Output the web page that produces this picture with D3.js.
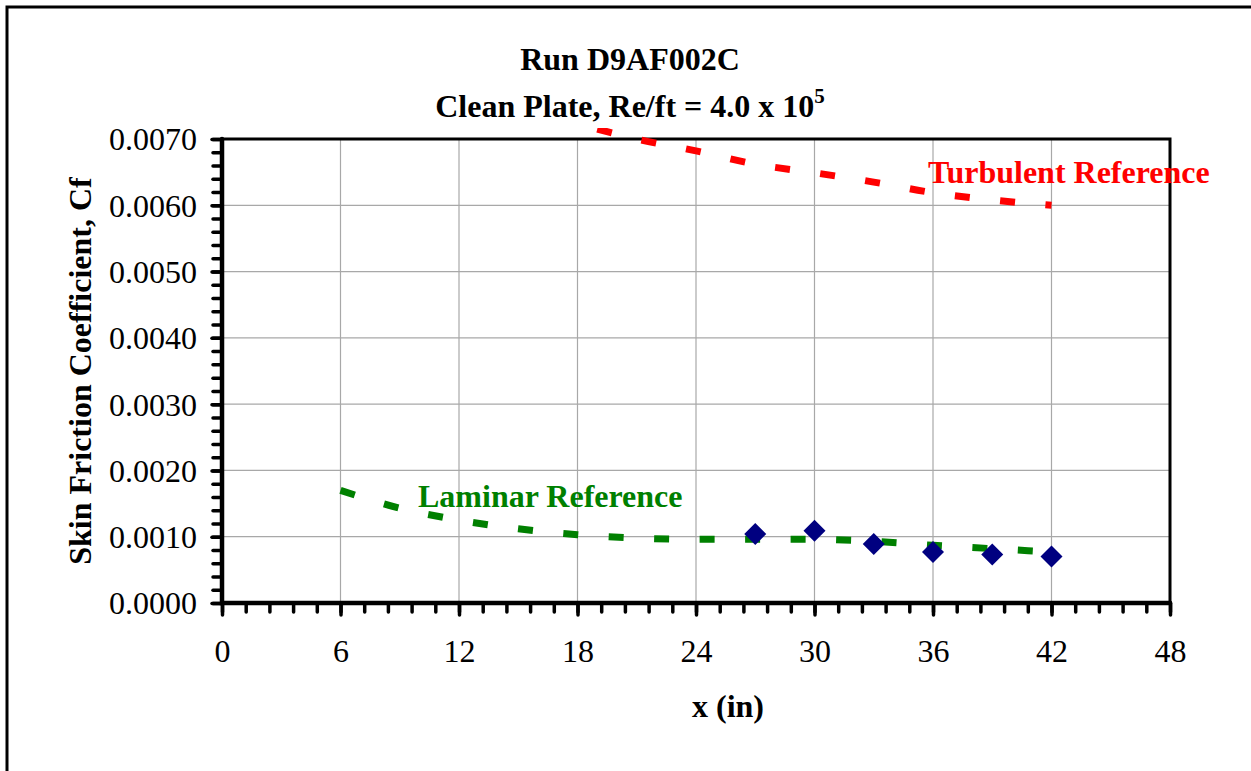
<!DOCTYPE html>
<html>
<head>
<meta charset="utf-8">
<script src="https://cdn.jsdelivr.net/npm/d3@7"></script>
<style>
  body { margin: 0; background: #fff; }
  text { font-family: "Liberation Serif", "Times New Roman", serif; }
</style>
</head>
<body>
<svg id="chart"></svg>
<script>
// Chart size and plot area
const width = 1251;
const height = 771;
const plot = { left: 222, right: 1170, top: 139, bottom: 603 };

// Data
const xTickValues = [0, 6, 12, 18, 24, 30, 36, 42, 48];
const yTickValues = [0, 0.001, 0.002, 0.003, 0.004, 0.005, 0.006, 0.007];

const measuredX = [27, 30, 33, 36, 39, 42];
const measuredCf = [0.00104, 0.00109, 0.00089, 0.00077, 0.00073, 0.00070];

const laminarX = [6, 9, 12, 15, 18, 21, 24, 27, 30, 33, 36, 39, 42];
const laminarCf = [0.00170, 0.00143, 0.00125, 0.00112, 0.00103, 0.00098, 0.00096,
                   0.00096, 0.00096, 0.00093, 0.00087, 0.00082, 0.00077];

const turbulentX = [19, 21, 24, 27, 30, 33, 36, 39, 42];
const turbulentCf = [0.00715, 0.00700, 0.00682, 0.00662, 0.00649, 0.00635, 0.00619, 0.00608, 0.00600];

// Visual constants
const FONT_SIZE = 32;
const GRID_COLOR = '#a8a8a8';
const LAMINAR_COLOR = '#008000';
const TURBULENT_COLOR = '#ff0000';
const MARKER_COLOR = '#000080';
const REF_LINE_WIDTH = 7;
const REF_DASH = '15,30.5';

const svg = d3.select('#chart')
    .attr('width', width)
    .attr('height', height)
    .attr('viewBox', [0, 0, width, height]);

const x = d3.scaleLinear([0, 48], [plot.left, plot.right]);
const y = d3.scaleLinear([0, 0.007], [plot.bottom, plot.top]);

// Outer chart border (runs off the right and bottom edges)
svg.append('rect')
    .attr('x', 7).attr('y', 7)
    .attr('width', 1300).attr('height', 820)
    .attr('fill', 'none')
    .attr('stroke', '#000')
    .attr('stroke-width', 3);

// Gridlines
const grid = svg.append('g');
grid.selectAll('line.gx')
    .data(xTickValues.slice(1, -1))
    .join('line')
        .attr('x1', d => x(d)).attr('x2', d => x(d))
        .attr('y1', plot.top).attr('y2', plot.bottom)
        .attr('stroke', GRID_COLOR)
        .attr('stroke-width', 1.2);
grid.selectAll('line.gy')
    .data(yTickValues.slice(1, -1))
    .join('line')
        .attr('x1', plot.left).attr('x2', plot.right)
        .attr('y1', d => y(d)).attr('y2', d => y(d))
        .attr('stroke', GRID_COLOR)
        .attr('stroke-width', 1.2);

// Top and right frame of plot area
svg.append('path')
    .attr('d', `M${plot.left},${plot.top}H${plot.right}V${plot.bottom}`)
    .attr('fill', 'none')
    .attr('stroke', '#000')
    .attr('stroke-width', 3);

// Reference lines, clipped a bit above the plot top like the original
svg.append('clipPath')
    .attr('id', 'clip')
    .append('rect')
        .attr('x', plot.left)
        .attr('y', plot.top - 11)
        .attr('width', plot.right - plot.left)
        .attr('height', plot.bottom - plot.top + 11);

const line = d3.line()
    .x(d => x(d[0]))
    .y(d => y(d[1]))
    .curve(d3.curveMonotoneX);

const refs = svg.append('g').attr('clip-path', 'url(#clip)');
refs.append('path')
    .attr('d', line(d3.zip(laminarX, laminarCf)))
    .attr('fill', 'none')
    .attr('stroke', LAMINAR_COLOR)
    .attr('stroke-width', REF_LINE_WIDTH)
    .attr('stroke-dasharray', REF_DASH);
refs.append('path')
    .attr('d', line(d3.zip(turbulentX, turbulentCf)))
    .attr('fill', 'none')
    .attr('stroke', TURBULENT_COLOR)
    .attr('stroke-width', REF_LINE_WIDTH)
    .attr('stroke-dasharray', REF_DASH);

// Measured points as diamonds
const R = 11;
svg.append('g')
    .selectAll('path')
    .data(d3.zip(measuredX, measuredCf))
    .join('path')
        .attr('transform', d => `translate(${x(d[0])},${y(d[1])})`)
        .attr('d', `M0,${-R}L${R},0L0,${R}L${-R},0Z`)
        .attr('fill', MARKER_COLOR);

// Axes: major and minor ticks, thick lines with round caps
function styleAxis(g) {
    g.select('.domain').remove();
    g.selectAll('.tick line')
        .attr('stroke', '#000')
        .attr('stroke-width', 3.5)
        .attr('stroke-linecap', 'round');
}

const xMinor = d3.range(0, 48.001, 1.2);
const yMinor = d3.range(0, 0.00701, 0.0002);

svg.append('g')
    .attr('transform', `translate(0,${plot.bottom})`)
    .call(d3.axisBottom(x).tickValues(xMinor).tickSize(9).tickFormat(''))
    .call(styleAxis);
svg.append('g')
    .attr('transform', `translate(0,${plot.bottom})`)
    .call(d3.axisBottom(x).tickValues(xTickValues).tickSize(12).tickFormat(d3.format('d')))
    .call(styleAxis)
    .call(g => g.selectAll('.tick text')
        .attr('y', 59)
        .attr('dy', 0)
        .attr('fill', '#000')
        .attr('font-size', FONT_SIZE)
        .attr('font-family', '"Liberation Serif", "Times New Roman", serif'));

svg.append('g')
    .attr('transform', `translate(${plot.left},0)`)
    .call(d3.axisLeft(y).tickValues(yMinor).tickSize(9).tickFormat(''))
    .call(styleAxis);
svg.append('g')
    .attr('transform', `translate(${plot.left},0)`)
    .call(d3.axisLeft(y).tickValues(yTickValues).tickSize(10).tickFormat(d3.format('.4f')))
    .call(styleAxis)
    .call(g => g.selectAll('.tick text')
        .attr('x', -25)
        .attr('dy', '0.34em')
        .attr('fill', '#000')
        .attr('font-size', FONT_SIZE)
        .attr('font-family', '"Liberation Serif", "Times New Roman", serif'));

// Axis lines drawn over the ticks
svg.append('path')
    .attr('d', `M${plot.left},${plot.top}V${plot.bottom}H${plot.right}`)
    .attr('fill', 'none')
    .attr('stroke', '#000')
    .attr('stroke-width', 4.5)
    .attr('stroke-linecap', 'round');

// Titles
svg.append('text')
    .attr('x', 630).attr('y', 70)
    .attr('text-anchor', 'middle')
    .attr('font-size', FONT_SIZE)
    .attr('font-weight', 'bold')
    .text('Run D9AF002C');

const sub = svg.append('text')
    .attr('x', 630).attr('y', 117)
    .attr('text-anchor', 'middle')
    .attr('font-size', FONT_SIZE)
    .attr('font-weight', 'bold');
sub.append('tspan').text('Clean Plate, Re/ft = 4.0 x 10');
sub.append('tspan')
    .attr('font-size', 21)
    .attr('dy', -14)
    .text('5');

svg.append('text')
    .attr('x', 728).attr('y', 717)
    .attr('text-anchor', 'middle')
    .attr('font-size', FONT_SIZE)
    .attr('font-weight', 'bold')
    .text('x (in)');

svg.append('text')
    .attr('transform', `translate(91,${(plot.top + plot.bottom) / 2}) rotate(-90)`)
    .attr('text-anchor', 'middle')
    .attr('font-size', FONT_SIZE)
    .attr('font-weight', 'bold')
    .text('Skin Friction Coefficient, Cf');

// Series annotations
svg.append('text')
    .attr('x', 928).attr('y', 183)
    .attr('font-size', FONT_SIZE)
    .attr('font-weight', 'bold')
    .attr('fill', TURBULENT_COLOR)
    .text('Turbulent Reference');

svg.append('text')
    .attr('x', 418).attr('y', 507)
    .attr('font-size', FONT_SIZE)
    .attr('font-weight', 'bold')
    .attr('fill', LAMINAR_COLOR)
    .text('Laminar Reference');
</script>
</body>
</html>
